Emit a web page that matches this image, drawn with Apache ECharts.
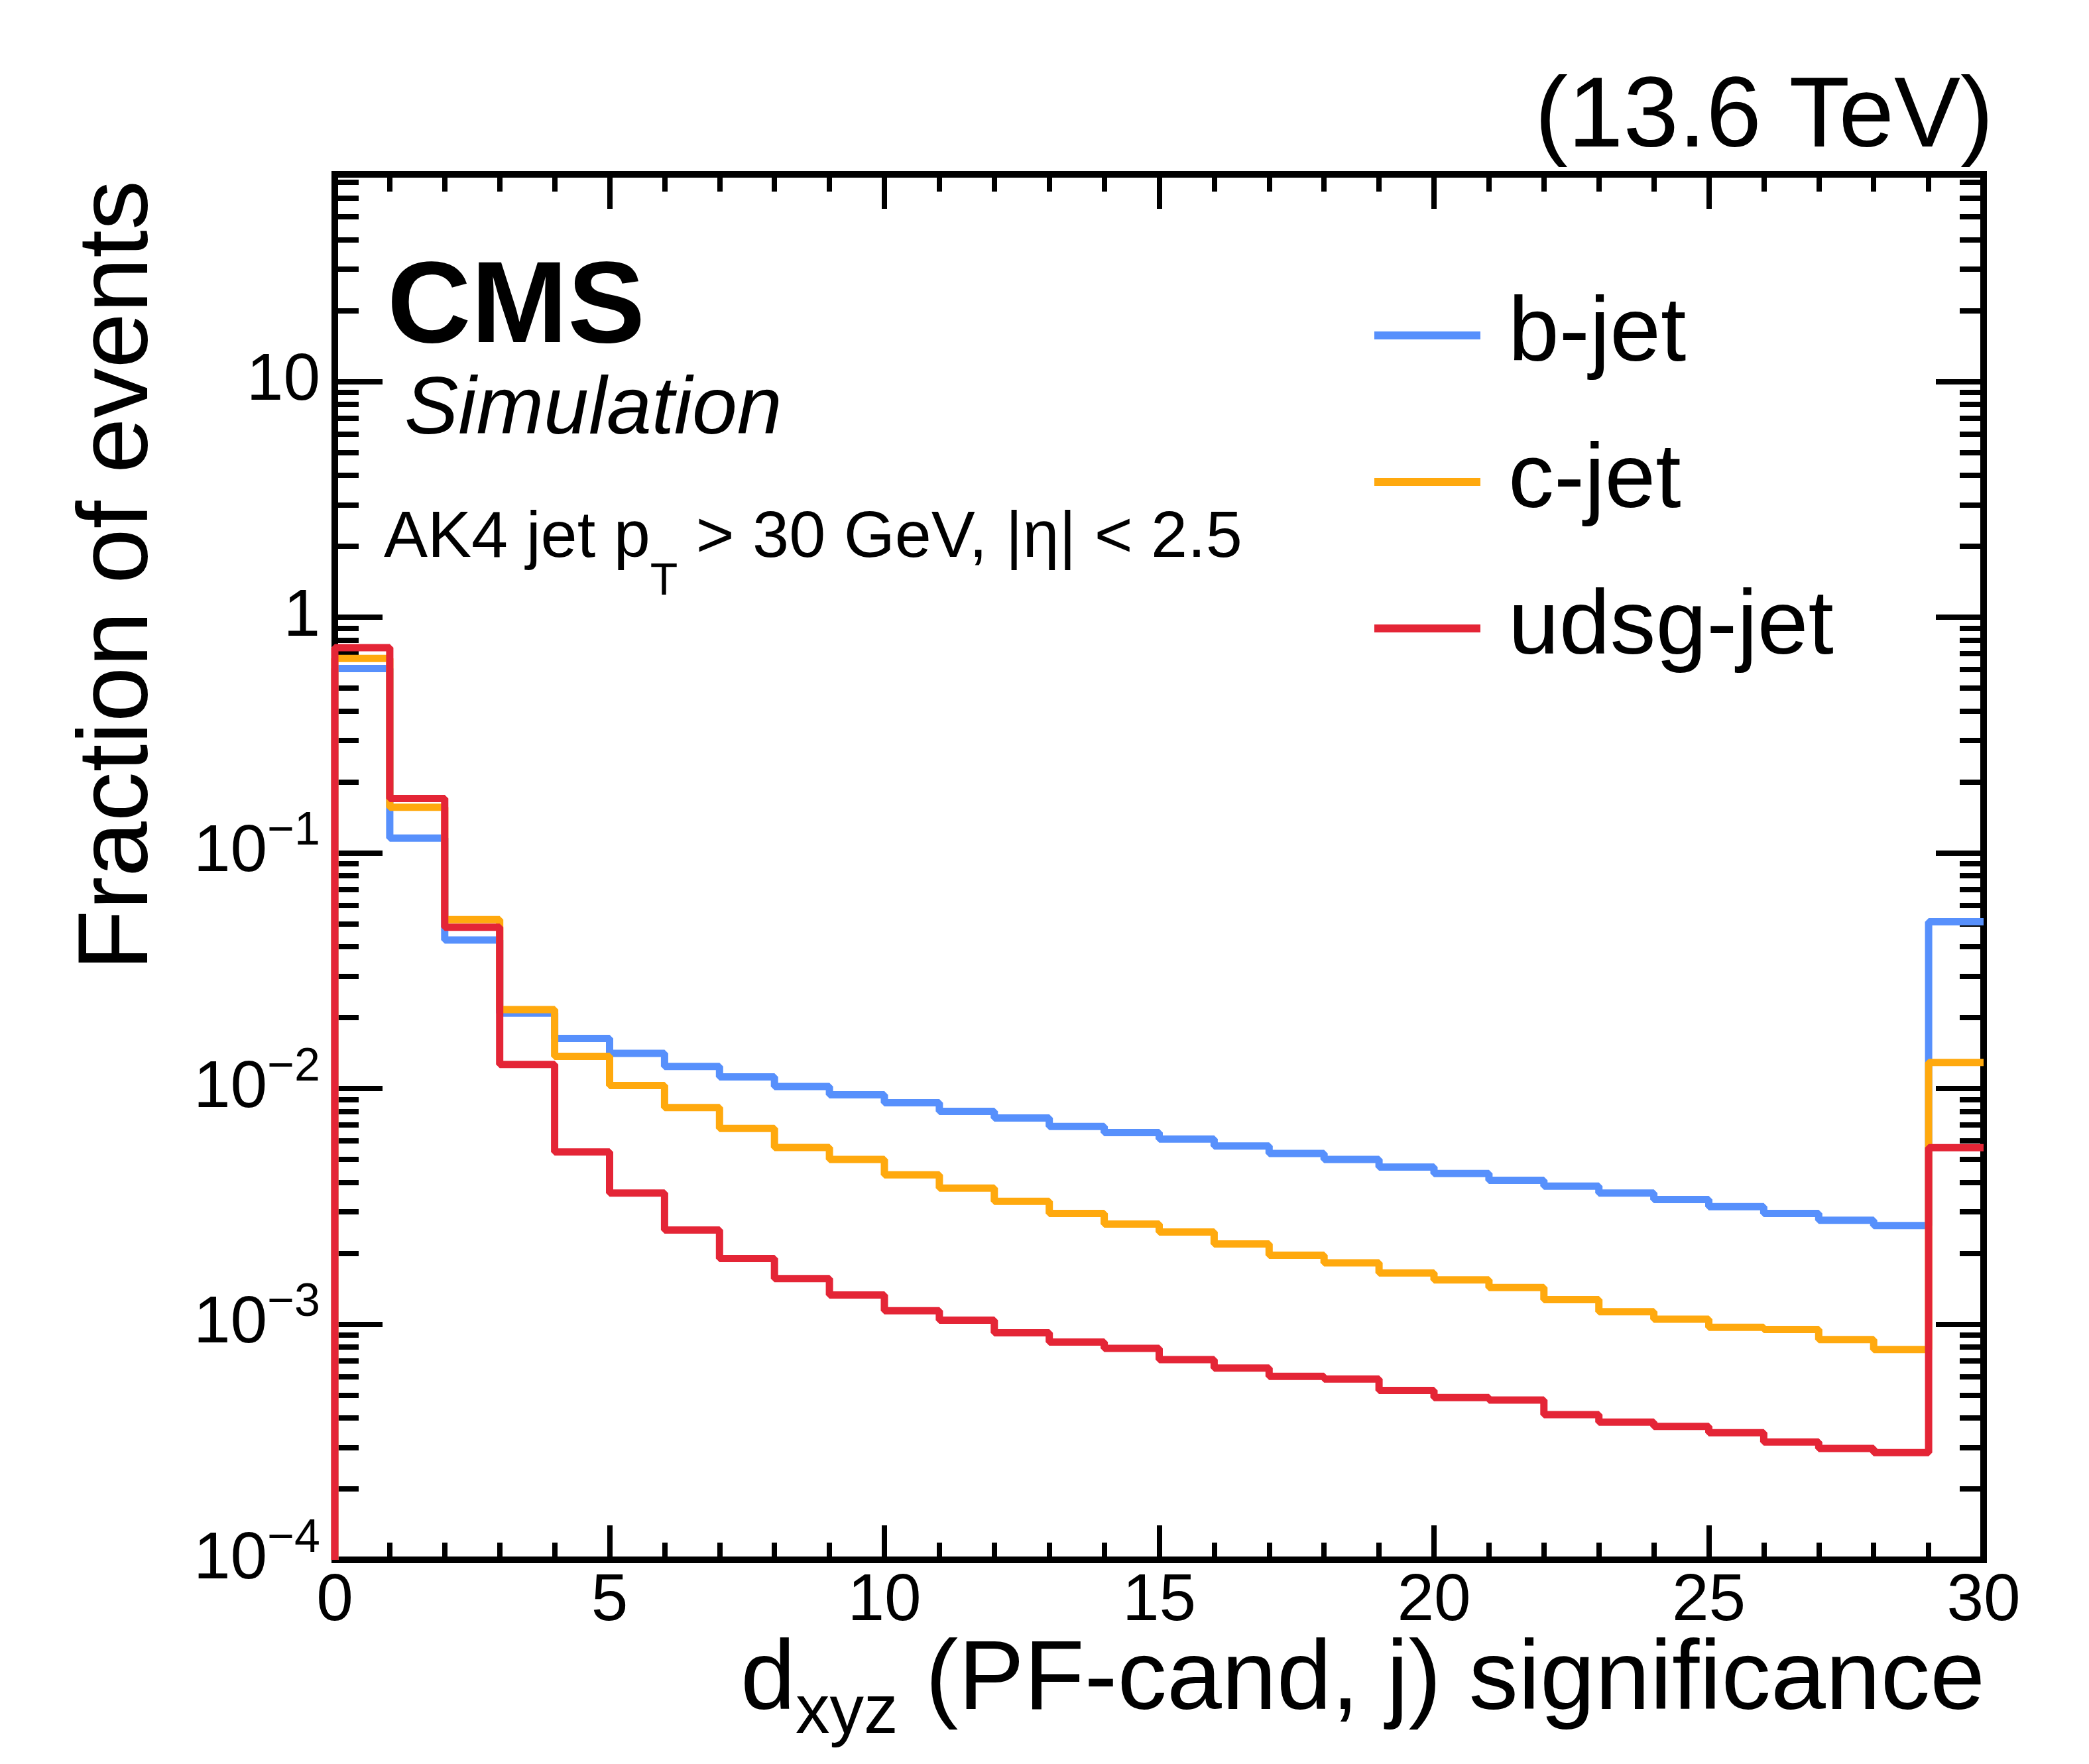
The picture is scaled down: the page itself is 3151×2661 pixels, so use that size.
<!DOCTYPE html>
<html>
<head>
<meta charset="utf-8">
<title>dxyz significance</title>
<script src="https://cdn.jsdelivr.net/npm/echarts@6.0.0/dist/echarts.min.js"></script>
<style>
html,body{margin:0;padding:0;background:#fff;}
#main{width:3151px;height:2661px;}
</style>
</head>
<body>
<div id="main"></div>
<script>
// histogram range, 30 bins of width 1
var xMin = 0, xMax = 30
var yMin = 1e-4, yMax = 75.7

// fraction of events per bin (bin 29 holds the overflow)
var bJet = [0.605, 0.1156, 0.0427, 0.0209, 0.0163, 0.0141, 0.0124, 0.0112, 0.0102, 0.0094,
	0.0087, 0.0080, 0.0075, 0.0069, 0.0065, 0.0061, 0.0057, 0.0053, 0.0050, 0.00464,
	0.00436, 0.00408, 0.00385, 0.0036, 0.00338, 0.00315, 0.00295, 0.00276, 0.00262, 0.0510]
var cJet = [0.668, 0.156, 0.0521, 0.0216, 0.0137, 0.0103, 0.0083, 0.00677, 0.00562, 0.0050,
	0.0043, 0.00378, 0.00332, 0.00295, 0.00266, 0.00246, 0.00219, 0.00196, 0.00182, 0.00165,
	0.00154, 0.00143, 0.00127, 0.00113, 0.00105, 0.00097, 0.00095, 0.00086, 0.00078, 0.0129]
var udsgJet = [0.743, 0.170, 0.0483, 0.01265, 0.00538, 0.0036, 0.00251, 0.0019, 0.00156, 0.00133,
	0.00114, 0.00104, 0.00092, 0.00084, 0.00079, 0.000707, 0.000651, 0.0006, 0.000585, 0.000523,
	0.000488, 0.000476, 0.000413, 0.000384, 0.000368, 0.000346, 0.000316, 0.000297, 0.000285, 0.00561]

var names = ['b-jet', 'c-jet', 'udsg-jet']
var colors = ['#5790fc', '#ffa90e', '#e42536']

// y ticks: decades (log10) and the 2..9 sub-ticks
var yDecades = [-4, -3, -2, -1, 0, 1]
var ySub = [2, 3, 4, 5, 6, 7, 8, 9]

var font = 'Liberation Sans'
var lgMin = Math.log10(yMin), lgMax = Math.log10(yMax)

var yMinor = []
for (var i = 0; i < yDecades.length; i++) {
	for (var k = 0; k < ySub.length; k++) {
		var t = yDecades[i] + Math.log10(ySub[k])
		if (t < lgMax) yMinor.push(t)
	}
}

// histogram outline: rise from the floor at x=0, then one step per bin
function histo(vals) {
	var pts = [[xMin, yMin]]
	for (var i = 0; i < vals.length; i++) {
		pts.push([xMin + i, vals[i]])
	}
	pts.push([xMax, vals[vals.length - 1]])
	return pts
}

function expLabel(e) {
	e = Math.round(e)
	if (e == 0) return '1'
	if (e == 1) return '10'
	return '{b|10}{s|\u2212' + (-e) + '}'
}

var frame = {show: true, onZero: false, lineStyle: {color: '#000', width: 10, cap: 'square'}}
var noLine = {show: false, onZero: false}
var tickStyle = {color: '#000', width: 8}

function yTickAxis(pos, vals, len, withLabel) {
	return {
		type: 'value', position: pos, min: lgMin, max: lgMax,
		axisLine: noLine, splitLine: {show: false},
		axisTick: {show: true, inside: true, length: len, customValues: vals, lineStyle: tickStyle},
		axisLabel: withLabel ? {
			show: true, customValues: yDecades, formatter: expLabel, margin: 22,
			color: '#000', fontFamily: font, fontSize: 100,
			rich: {
				b: {fontFamily: font, fontSize: 100, lineHeight: 133, verticalAlign: 'middle', color: '#000'},
				s: {fontFamily: font, fontSize: 70, lineHeight: 70, verticalAlign: 'top', color: '#000'}
			}
		} : {show: false}
	}
}

function xAxisDef(pos, withLabel) {
	return {
		type: 'value', position: pos, min: xMin, max: xMax, interval: 5,
		axisLine: frame, splitLine: {show: false},
		axisTick: {show: true, inside: true, length: 52, lineStyle: tickStyle},
		minorTick: {show: true, splitNumber: 5, length: 26, lineStyle: tickStyle},
		axisLabel: withLabel ? {
			show: true, margin: 13, color: '#000', fontFamily: font, fontSize: 100, lineHeight: 100,
			showMinLabel: true, showMaxLabel: true
		} : {show: false}
	}
}

var series = []
var sets = [bJet, cJet, udsgJet]
for (var s = 0; s < sets.length; s++) {
	series.push({
		name: names[s], type: 'line', step: 'end', symbol: 'none',
		xAxisIndex: 0, yAxisIndex: 0,
		data: histo(sets[s]),
		color: colors[s],
		lineStyle: {color: colors[s], width: 11},
		z: 3
	})
}

var myChart = echarts.init(document.getElementById('main'))

var option = {
	backgroundColor: '#fff',
	animation: false,
	grid: {left: 505, right: 159, top: 263, bottom: 308, containLabel: false},
	xAxis: [xAxisDef('bottom', true), xAxisDef('top', false)],
	yAxis: [
		{
			type: 'log', logBase: 10, position: 'left', min: yMin, max: yMax,
			axisLine: frame, axisTick: {show: false}, axisLabel: {show: false}, splitLine: {show: false}
		},
		yTickAxis('left', yDecades, 72, true),
		yTickAxis('left', yMinor, 36, false),
		Object.assign(yTickAxis('right', yDecades, 72, false), {axisLine: frame}),
		yTickAxis('right', yMinor, 36, false)
	],
	legend: {
		orient: 'vertical', left: 2073, top: 436, padding: 0,
		itemWidth: 160, itemHeight: 12, itemGap: 81, icon: 'rect',
		data: names,
		textStyle: {fontFamily: font, fontSize: 138, lineHeight: 140, color: '#000', padding: [0, 0, 0, 37]}
	},
	graphic: [
		{type: 'text', x: 584, y: 468, style: {text: 'CMS', fontFamily: font, fontWeight: 'bold', fontSize: 175,
			fill: '#000', align: 'left', verticalAlign: 'middle', textAlign: 'left', textVerticalAlign: 'middle'}},
		{type: 'text', x: 610, y: 620, style: {text: 'Simulation', fontFamily: font, fontStyle: 'italic', fontSize: 122,
			fill: '#000', align: 'left', verticalAlign: 'middle', textAlign: 'left', textVerticalAlign: 'middle'}},
		{type: 'text', x: 579, y: 813, style: {
			text: '{m|AK4 jet p}{t|T}{m| > 30 GeV, |\u03b7| < 2.5}',
			fill: '#000', align: 'left', verticalAlign: 'middle', textAlign: 'left', textVerticalAlign: 'middle',
			rich: {
				m: {fontFamily: font, fontSize: 99, lineHeight: 199, verticalAlign: 'middle', fill: '#000'},
				t: {fontFamily: font, fontSize: 68, lineHeight: 68, verticalAlign: 'bottom', fill: '#000'}
			}}},
		{type: 'text', x: 3007, y: 180, style: {text: '(13.6 TeV)', fontFamily: font, fontSize: 150,
			fill: '#000', align: 'right', verticalAlign: 'middle', textAlign: 'right', textVerticalAlign: 'middle'}},
		{type: 'text', x: 181, y: 272, rotation: Math.PI / 2, style: {text: 'Fraction of events', fontFamily: font, fontSize: 150,
			fill: '#000', align: 'right', verticalAlign: 'middle', textAlign: 'right', textVerticalAlign: 'middle'}},
		{type: 'text', x: 2994, y: 2537, style: {
			text: '{m|d}{s|xyz}{m| (PF-cand, j) significance}',
			fill: '#000', align: 'right', verticalAlign: 'middle', textAlign: 'right', textVerticalAlign: 'middle',
			rich: {
				m: {fontFamily: font, fontSize: 149, lineHeight: 201, verticalAlign: 'middle', fill: '#000'},
				s: {fontFamily: font, fontSize: 103, lineHeight: 103, verticalAlign: 'bottom', fill: '#000'}
			}}}
	],
	series: series
}

myChart.setOption(option)
</script>
</body>
</html>
